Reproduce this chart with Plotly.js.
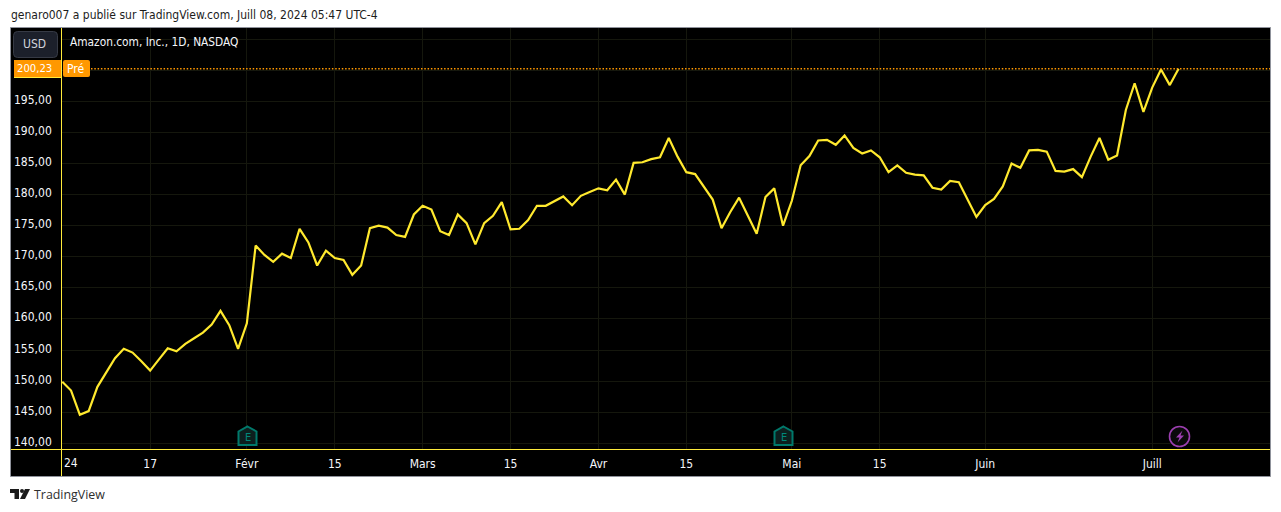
<!DOCTYPE html>
<html>
<head>
<meta charset="utf-8">
<script src="https://cdn.plot.ly/plotly-3.0.1.min.js"></script>
<style>html,body{margin:0;padding:0;background:#fff;overflow:hidden}#c{width:1281px;height:512px}</style>
</head>
<body>
<div id="c"></div>
<script>
const dates = ["01-02","01-03","01-04","01-05","01-08","01-09","01-10","01-11","01-12","01-16","01-17","01-18","01-19","01-22","01-23","01-24","01-25","01-26","01-29","01-30","01-31",
"02-01","02-02","02-05","02-06","02-07","02-08","02-09","02-12","02-13","02-14","02-15","02-16","02-20","02-21","02-22","02-23","02-26","02-27","02-28","02-29",
"03-01","03-04","03-05","03-06","03-07","03-08","03-11","03-12","03-13","03-14","03-15","03-18","03-19","03-20","03-21","03-22","03-25","03-26","03-27","03-28",
"04-01","04-02","04-03","04-04","04-05","04-08","04-09","04-10","04-11","04-12","04-15","04-16","04-17","04-18","04-19","04-22","04-23","04-24","04-25","04-26","04-29","04-30",
"05-01","05-02","05-03","05-06","05-07","05-08","05-09","05-10","05-13","05-14","05-15","05-16","05-17","05-20","05-21","05-22","05-23","05-24","05-28","05-29","05-30","05-31",
"06-03","06-04","06-05","06-06","06-07","06-10","06-11","06-12","06-13","06-14","06-17","06-18","06-20","06-21","06-24","06-25","06-26","06-27","06-28",
"07-01","07-02","07-03","07-05"];
const closes = [149.9,148.5,144.6,145.2,149.1,151.4,153.7,155.2,154.6,153.2,151.7,153.5,155.3,154.8,156.0,156.9,157.8,159.1,161.3,159.0,155.2,
159.3,171.8,170.3,169.2,170.5,169.8,174.5,172.3,168.6,171.0,169.8,169.5,167.1,168.6,174.6,175.0,174.7,173.5,173.2,176.8,
178.2,177.6,174.1,173.5,176.8,175.4,172.0,175.4,176.6,178.8,174.4,174.5,175.9,178.2,178.2,178.9,179.7,178.3,179.8,180.4,
181.0,180.7,182.4,180.0,185.1,185.2,185.7,186.0,189.1,186.1,183.6,183.3,181.3,179.2,174.6,177.2,179.5,176.6,173.7,179.6,181.0,175.0,
179.0,184.7,186.2,188.7,188.8,188.0,189.5,187.5,186.6,187.1,186.0,183.6,184.7,183.5,183.2,183.1,181.1,180.8,182.2,182.0,179.3,176.4,
178.3,179.3,181.3,185.0,184.3,187.1,187.2,186.9,183.8,183.7,184.1,182.8,186.1,189.1,185.6,186.3,193.6,197.9,193.3,
197.2,200.1,197.6,200.23];
const lastPrice = 200.23;
const xTickDates = ["01-17","02-01","02-15","03-01","03-15","04-01","04-15","05-01","05-15","06-03","07-01"];
const xTickLabels = ["17","Févr","15","Mars","15","Avr","15","Mai","15","Juin","Juill"];
const yTickValues = [140,145,150,155,160,165,170,175,180,185,190,195,200,205];
const yTickLabels = ["140,00","145,00","150,00","155,00","160,00","165,00","170,00","175,00","180,00","185,00","190,00","195,00","",""];

const F = '"DejaVu Sans Condensed","DejaVu Sans",sans-serif';
const L = 62, R = 1270, T = 28, B = 449;
const fx = p => (p - L) / (R - L);
const fy = p => (B - p) / (B - T);
const P = {xref:'paper', yref:'paper'};
const rect = (x0,y0,x1,y1,fill,line,lw,layer) => ({type:'rect',...P,x0:fx(x0),x1:fx(x1),y0:fy(y0),y1:fy(y1),fillcolor:fill,line:{color:line||fill,width:lw===undefined?0:lw},layer:layer||'above'});
const seg = (x0,y0,x1,y1,c,w) => ({type:'line',...P,x0:fx(x0),x1:fx(x1),y0:fy(y0),y1:fy(y1),line:{color:c,width:w},layer:'above'});
const poly = (pts,fill,line,lw) => ({type:'path',...P,path:'M'+pts.map(p=>fx(p[0])+' '+fy(p[1])).join(' L')+' Z',fillcolor:fill,line:{color:line||fill,width:lw||0},layer:'above'});
function round(x0,y0,x1,y1,r,fill,line,lw){
  const q=(a,b)=>fx(a)+' '+fy(b);
  return {type:'path',...P,path:`M${q(x0+r,y0)} L${q(x1-r,y0)} Q${q(x1,y0)} ${q(x1,y0+r)} L${q(x1,y1-r)} Q${q(x1,y1)} ${q(x1-r,y1)} L${q(x0+r,y1)} Q${q(x0,y1)} ${q(x0,y1-r)} L${q(x0,y0+r)} Q${q(x0,y0)} ${q(x0+r,y0)} Z`,fillcolor:fill,line:{color:line||fill,width:lw||0},layer:'above'};
}
const house = cx => poly([[cx,426.5],[cx+9,431.5],[cx+9,445],[cx-9,445],[cx-9,431.5]],'#0d1f1e','#00796b',2);
const txt = (s,x,y,color,size,anchor,font) => ({text:s,...P,x:fx(x),y:fy(y),xanchor:anchor||'left',yanchor:'middle',showarrow:false,borderpad:0,font:{family:font||F,size:size,color:color}});

const shapes = [
  rect(10.5,27.5,1270.5,476.5,'#000000','#8f929b',1,'below'),
  seg(61.5,28,61.5,476,'#ffeb3b',1),
  seg(11,449.5,1270,449.5,'#ffeb3b',1),
  {type:'line',xref:'paper',yref:'y',x0:fx(91),x1:1,y0:lastPrice,y1:lastPrice,line:{color:'#ff9800',width:1.5,dash:'1.5px,1.8px'},layer:'above'},
  round(13.5,31.5,57.5,57.5,4,'#1c202b','#363a45',1),
  rect(14,60,61,77,'#ff9800'),
  seg(14,77.5,61,77.5,'#ffeb3b',1),
  round(63,60,90,77,2,'#ff9800'),
  house(247.5),
  house(783.5),
  {type:'circle',...P,x0:fx(1169.5),x1:fx(1189.5),y0:fy(446.5),y1:fy(426.5),fillcolor:'#0a0a0a',line:{color:'#9c3fb0',width:1.6},layer:'above'},
  poly([[1182.5,430.5],[1176,437.5],[1179.5,437.5],[1177.5,442.5],[1184,435.5],[1180.5,435.5]],'#9c3fb0'),
  rect(10,489,19,493,'#1b1b1b'),
  rect(14.5,489,19,499,'#1b1b1b'),
  {type:'circle',...P,x0:fx(20),x1:fx(24),y0:fy(493),y1:fy(489),fillcolor:'#1b1b1b',line:{width:0},layer:'above'},
  poly([[25,489],[30,489],[25,499],[20,499]],'#1b1b1b')
];

const yLabelAnnotations = yTickValues.map((v,i) => ({text:yTickLabels[i],xref:'paper',yref:'y',x:fx(53),y:v,yshift:1.5,xanchor:'right',yanchor:'middle',showarrow:false,borderpad:0,font:{family:F,size:12,color:'#f4f6fb'}})).filter(a=>a.text);

const annotations = [
  ...yLabelAnnotations,
  txt('genaro007 a publié sur TradingView.com, Juill 08, 2024 05:47 UTC-4',10,14.5,'#1c1c1c',12),
  txt('Amazon.com, Inc., 1D, NASDAQ',69,42,'#f4f6fb',11.8),
  txt('USD',34,43.5,'#d1d4dc',12,'center'),
  txt('200,23',52.5,68,'#ffffff',11.2,'right'),
  txt('Pré',75.5,68.5,'#ffffff',12,'center'),
  txt('24',62.5,463,'#f4f6fb',12),
  txt('E',247.5,437,'#00897b',11,'center'),
  txt('E',783.5,437,'#00897b',11,'center'),
  txt('TradingView',33,494.5,'#2e2e2e',12.4,'left','"Open Sans",sans-serif')
];

Plotly.newPlot('c',[{
  type:'scatter',mode:'lines',x:dates,y:closes,
  line:{color:'#ffe92e',width:2.2,shape:'linear'},hoverinfo:'skip',cliponaxis:true
}],{
  width:1281,height:512,showlegend:false,
  margin:{l:L,r:1281-R,t:T,b:512-B,pad:0},
  paper_bgcolor:'#ffffff',plot_bgcolor:'#000000',
  font:{family:F,size:12,color:'#f4f6fb'},
  xaxis:{type:'category',categoryorder:'array',categoryarray:dates,range:[-0.03,137.4],
    tickmode:'array',tickvals:xTickDates,ticktext:xTickLabels,tickangle:0,
    showgrid:true,gridcolor:'#15170d',gridwidth:1,zeroline:false,showline:false,
    ticks:'outside',ticklen:4,tickcolor:'rgba(0,0,0,0)',tickfont:{family:F,size:12,color:'#f4f6fb'}},
  yaxis:{type:'linear',range:[139.1,206.78],
    tickmode:'array',tickvals:yTickValues,showticklabels:false,
    showgrid:true,gridcolor:'#15170d',gridwidth:1,zeroline:false,showline:false,ticks:''},
  shapes,annotations
},{displayModeBar:false,staticPlot:true});
</script>
</body>
</html>
